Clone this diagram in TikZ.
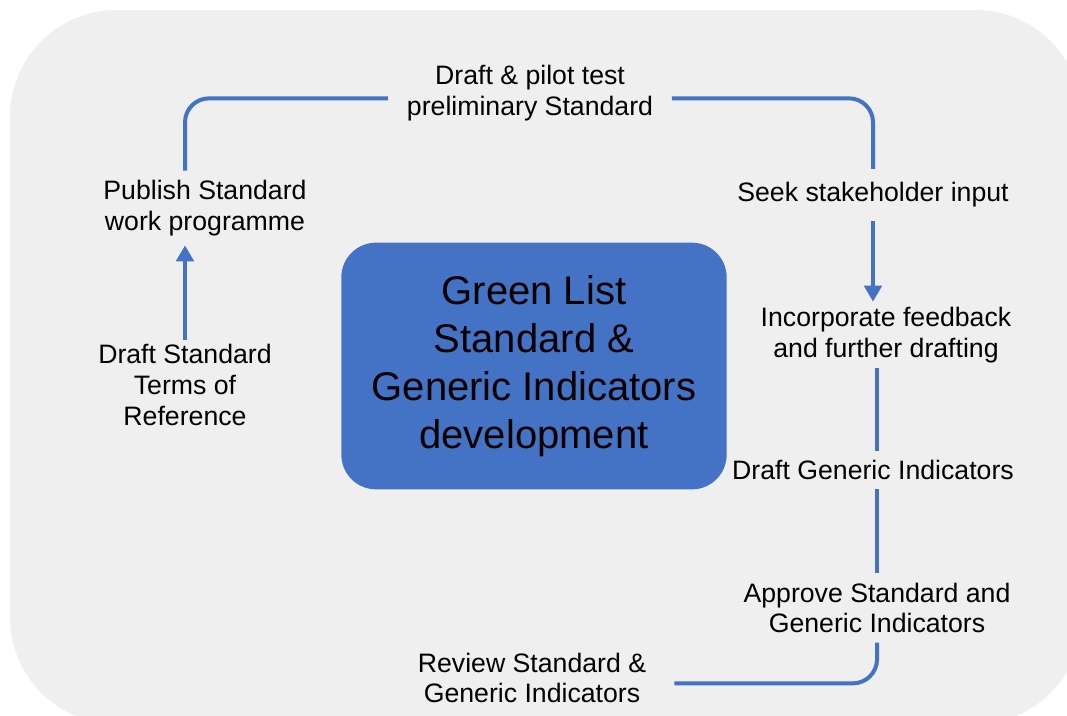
\documentclass[tikz,border=0pt]{standalone}
\usepackage{fontspec}
\setmainfont{Liberation Sans}
\usetikzlibrary{arrows.meta}

\definecolor{bggray}{HTML}{EFEFEF}
\definecolor{stepblue}{HTML}{4472C4}

\tikzset{
  stage/.style={align=center, font=\fontsize{20}{23}\selectfont, inner xsep=0pt, inner ysep=7pt},
  hub/.style={fill=stepblue, rounded corners=26pt, minimum width=289pt, minimum height=185pt,
    align=center, font=\fontsize{30}{36}\selectfont},
  flow/.style={stepblue, line width=3pt, rounded corners=18pt},
  flowarrow/.style={flow, -{Triangle[width=13pt,length=12pt]}}
}

\begin{document}
\begin{tikzpicture}[x=0.75pt, y=-0.75pt]
\useasboundingbox (0,0) rectangle (1067,715);
\clip (0,0) rectangle (1067,715);

% Background panel
\fill[bggray, rounded corners=80pt] (10,10) rectangle (1082,724);

% Centre box
\node[hub] (hub) at (534,366) {Green List\\Standard \&\\Generic Indicators\\development};

% Stages
\node[stage, inner xsep=14pt] (pilot) at (530,93) {Draft \& pilot test\\preliminary Standard};
\node[stage] (publish) at (205,208) {Publish Standard\\work programme};
\node[stage, inner ysep=3pt] (terms) at (185,385) {Draft Standard\\Terms of\\Reference};
\node[stage, inner ysep=10pt] (seek) at (873,195) {Seek stakeholder input};
\node[stage, inner ysep=4pt] (feedback) at (886,335) {Incorporate feedback\\and further drafting};
\node[stage] (gendraft) at (873,470) {Draft Generic Indicators};
\node[stage] (approve) at (877,608) {Approve Standard and\\Generic Indicators};
\node[stage, inner xsep=21pt] (review) at (532,678) {Review Standard \&\\Generic Indicators};

% Connectors
\draw[flow] ([yshift=-4pt]pilot.west) -| (publish.north -| terms.north);
\draw[flowarrow] (terms.north) -- (publish.south -| terms.north);
\draw[flow] ([yshift=-4pt]pilot.east) -| (seek.north);
\draw[flowarrow] (seek.south) -- (seek.south |- feedback.north);
\draw[flow] (feedback.south -| approve.north) -- (gendraft.north -| approve.north);
\draw[flow] (gendraft.south -| approve.north) -- (approve.north);
\draw[flow] (approve.south) |- ([yshift=-4pt]review.east);
\end{tikzpicture}
\end{document}
